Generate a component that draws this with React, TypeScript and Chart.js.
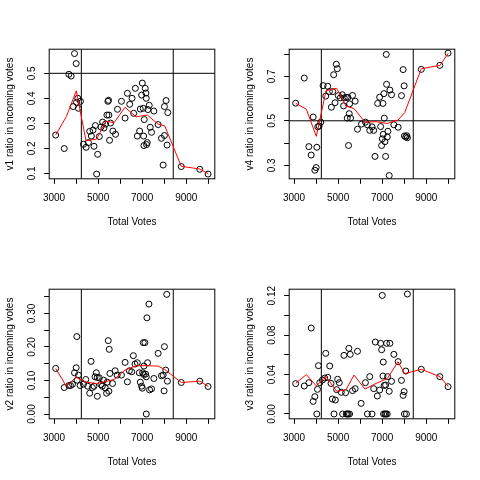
import React, { useEffect, useRef } from 'react';
import { Chart, registerables } from 'chart.js';

Chart.register(...registerables);

const FAMILY = '"Liberation Sans", Arial, Helvetica, sans-serif';
const FONT_SIZE = 10;

// shared x axis
const X_LIM = [2782, 10295];
const X_TICKS = [3000, 4000, 5000, 6000, 7000, 8000, 9000, 10000];
const X_TICK_LABELS = ['3000', '', '5000', '', '7000', '', '9000', ''];
const CUTS = [4240, 8410];
const SMOOTH_X = [3075, 3560, 4012, 4452, 4935, 5359, 5722, 6221, 6720, 7233, 7718, 8022, 8775, 9623, 10000];

// v1
const V1_X = [3075, 3465, 3675, 3780, 3930, 4005, 3870, 4020, 4080, 4110, 4200, 4335, 4455, 4560, 4620, 4695, 4770, 4815, 4875, 4935, 4980, 5055, 5130, 5205, 5265, 5340, 5400, 5445, 5475, 5490, 5520, 5565, 5670, 5790, 5880, 6060, 6225, 6330, 6435, 6540, 6615, 6690, 6780, 6885, 6915, 6975, 7005, 7050, 7065, 7080, 7095, 7140, 7170, 7185, 7200, 7230, 7260, 7320, 7365, 7425, 7530, 7725, 7875, 7950, 8010, 8010, 8085, 8130, 8160, 8775, 9615, 9990];
const V1_Y = [0.253, 0.199, 0.496, 0.489, 0.579, 0.539, 0.367, 0.384, 0.400, 0.360, 0.388, 0.216, 0.204, 0.223, 0.268, 0.249, 0.273, 0.208, 0.291, 0.097, 0.176, 0.247, 0.285, 0.305, 0.281, 0.297, 0.333, 0.388, 0.392, 0.333, 0.232, 0.301, 0.269, 0.256, 0.356, 0.388, 0.321, 0.420, 0.376, 0.400, 0.340, 0.440, 0.249, 0.269, 0.357, 0.413, 0.461, 0.360, 0.249, 0.211, 0.315, 0.440, 0.421, 0.400, 0.215, 0.223, 0.355, 0.372, 0.284, 0.264, 0.349, 0.295, 0.240, 0.133, 0.251, 0.367, 0.391, 0.213, 0.343, 0.127, 0.116, 0.097];
const V1_SMOOTH = [0.253, 0.327, 0.430, 0.230, 0.237, 0.309, 0.302, 0.364, 0.326, 0.333, 0.297, 0.290, 0.128, 0.117, 0.098];
const V1_YLIM = [0.078, 0.5964];
const V1_TICKS = [0.1, 0.2, 0.3, 0.4, 0.5];
const V1_TICK_LABELS = ['0.1', '0.2', '0.3', '0.4', '0.5'];
const V1_HLINES = [0.5];

// v4
const V4_X = [3075, 3465, 3675, 3780, 3870, 3945, 4005, 4035, 4080, 4140, 4215, 4320, 4440, 4530, 4605, 4695, 4755, 4800, 4860, 4920, 4965, 5010, 5100, 5190, 5250, 5280, 5370, 5415, 5445, 5475, 5505, 5520, 5565, 5655, 5775, 5880, 6060, 6240, 6330, 6435, 6540, 6615, 6675, 6795, 6885, 6930, 6975, 7005, 7035, 7050, 7080, 7095, 7125, 7155, 7185, 7200, 7230, 7260, 7320, 7350, 7425, 7530, 7725, 7875, 7950, 7995, 8010, 8070, 8115, 8145, 8775, 9615, 9990];
const V4_Y = [0.579, 0.692, 0.384, 0.346, 0.517, 0.278, 0.290, 0.381, 0.473, 0.476, 0.494, 0.658, 0.611, 0.655, 0.631, 0.561, 0.631, 0.707, 0.581, 0.754, 0.734, 0.613, 0.603, 0.617, 0.567, 0.603, 0.605, 0.512, 0.605, 0.389, 0.532, 0.576, 0.512, 0.614, 0.588, 0.462, 0.485, 0.494, 0.482, 0.457, 0.473, 0.457, 0.340, 0.578, 0.606, 0.474, 0.389, 0.419, 0.578, 0.439, 0.622, 0.512, 0.406, 0.340, 0.798, 0.664, 0.427, 0.453, 0.254, 0.638, 0.617, 0.482, 0.471, 0.613, 0.730, 0.657, 0.432, 0.427, 0.433, 0.424, 0.731, 0.749, 0.804];
const V4_SMOOTH = [0.579, 0.552, 0.430, 0.635, 0.646, 0.566, 0.555, 0.494, 0.496, 0.488, 0.503, 0.537, 0.734, 0.749, 0.804];
const V4_YLIM = [0.2394, 0.8216];
const V4_TICKS = [0.3, 0.4, 0.5, 0.6, 0.7, 0.8];
const V4_TICK_LABELS = ['0.3', '', '0.5', '', '0.7', ''];
const V4_HLINES = [0.5];

// v2
const V2_X = [3075, 3465, 3675, 3750, 3840, 3930, 4005, 4035, 4050, 4110, 4185, 4335, 4440, 4530, 4620, 4680, 4740, 4815, 4860, 4920, 4965, 4965, 5055, 5130, 5190, 5250, 5325, 5385, 5415, 5460, 5490, 5505, 5535, 5655, 5775, 5865, 6060, 6225, 6330, 6420, 6525, 6600, 6675, 6780, 6870, 6915, 6975, 7005, 7020, 7050, 7065, 7080, 7125, 7155, 7185, 7185, 7215, 7245, 7305, 7335, 7425, 7530, 7725, 7875, 7950, 7995, 8010, 8070, 8115, 8145, 8775, 9615, 9990];
const V2_Y = [0.136, 0.079, 0.085, 0.085, 0.089, 0.123, 0.138, 0.231, 0.101, 0.116, 0.085, 0.089, 0.103, 0.083, 0.062, 0.157, 0.079, 0.083, 0.111, 0.123, 0.053, 0.109, 0.108, 0.088, 0.083, 0.101, 0.078, 0.062, 0.095, 0.219, 0.068, 0.193, 0.121, 0.091, 0.129, 0.116, 0.116, 0.154, 0.096, 0.129, 0.126, 0.174, 0.149, 0.153, 0.123, 0.095, 0.083, 0.077, 0.123, 0.213, 0.118, 0.143, 0.213, 0.119, 0.111, 0.000, 0.287, 0.153, 0.328, 0.072, 0.075, 0.106, 0.181, 0.114, 0.116, 0.069, 0.201, 0.131, 0.357, 0.098, 0.094, 0.098, 0.082];
const V2_SMOOTH = [0.136, 0.083, 0.110, 0.095, 0.091, 0.097, 0.103, 0.131, 0.144, 0.144, 0.143, 0.133, 0.094, 0.098, 0.082];
const V2_YLIM = [-0.0143, 0.3724];
const V2_TICKS = [0, 0.05, 0.1, 0.15, 0.2, 0.25, 0.3, 0.35];
const V2_TICK_LABELS = ['0.00', '', '0.10', '', '0.20', '', '0.30', ''];
const V2_HLINES: number[] = [];

// v3
const V3_X = [3075, 3465, 3675, 3780, 3870, 3945, 4035, 4065, 4110, 4170, 4290, 4395, 4440, 4530, 4620, 4680, 4740, 4815, 4875, 4935, 4980, 5055, 5145, 5205, 5265, 5340, 5370, 5415, 5460, 5490, 5520, 5550, 5655, 5775, 5880, 6045, 6240, 6330, 6435, 6540, 6615, 6690, 6780, 6885, 6930, 6975, 7005, 7035, 7050, 7065, 7095, 7125, 7155, 7170, 7200, 7230, 7245, 7320, 7350, 7425, 7530, 7725, 7875, 7950, 7995, 8010, 8070, 8100, 8145, 8775, 9615, 9990];
const V3_Y = [0.0308, 0.0284, 0.0318, 0.0872, 0.0128, 0.0176, 0, 0.025, 0.049, 0.0318, 0.0345, 0.0365, 0.0615, 0.0372, 0.0487, 0.031, 0.0152, 0, 0.0142, 0.0247, 0.0352, 0.0318, 0.022, 0, 0.0595, 0.0216, 0, 0, 0, 0.0666, 0, 0.0605, 0.0237, 0.0257, 0.0636, 0.0108, 0.0318, 0, 0.0379, 0, 0.0257, 0.073, 0.0183, 0.0243, 0.0717, 0.0652, 0.1203, 0.0385, 0.0527, 0, 0.029, 0, 0.0294, 0, 0.0717, 0, 0.0379, 0.023, 0.0717, 0.0331, 0.0605, 0.0531, 0.0341, 0.0189, 0.0227, 0, 0.0436, 0, 0.1217, 0.0453, 0.0379, 0.0277];
const V3_SMOOTH = [0.031, 0.040, 0.0285, 0.038, 0.023, 0.0245, 0.0395, 0.0253, 0.031, 0.036, 0.053, 0.041, 0.0453, 0.0379, 0.0277];
const V3_YLIM = [-0.00487, 0.1266];
const V3_TICKS = [0, 0.02, 0.04, 0.06, 0.08, 0.1, 0.12];
const V3_TICK_LABELS = ['0.00', '', '0.04', '', '0.08', '', '0.12'];
const V3_HLINES: number[] = [];

type Panel = {
  name: string;
  xs: number[];
  ys: number[];
  smooth: number[];
  ylim: number[];
  ticks: number[];
  tickLabels: string[];
  hlines: number[];
  left: number;
  top: number;
};

const PANELS: Panel[] = [
  { name: 'v1', xs: V1_X, ys: V1_Y, smooth: V1_SMOOTH, ylim: V1_YLIM, ticks: V1_TICKS, tickLabels: V1_TICK_LABELS, hlines: V1_HLINES, left: 0, top: 0 },
  { name: 'v4', xs: V4_X, ys: V4_Y, smooth: V4_SMOOTH, ylim: V4_YLIM, ticks: V4_TICKS, tickLabels: V4_TICK_LABELS, hlines: V4_HLINES, left: 240, top: 0 },
  { name: 'v2', xs: V2_X, ys: V2_Y, smooth: V2_SMOOTH, ylim: V2_YLIM, ticks: V2_TICKS, tickLabels: V2_TICK_LABELS, hlines: V2_HLINES, left: 0, top: 240 },
  { name: 'v3', xs: V3_X, ys: V3_Y, smooth: V3_SMOOTH, ylim: V3_YLIM, ticks: V3_TICKS, tickLabels: V3_TICK_LABELS, hlines: V3_HLINES, left: 240, top: 240 },
];

const SIZE = 240;
const MAR_LEFT = 49.2;
const MAR_RIGHT = 25.2;
const MAR_TOP = 49.2;
const MAR_BOTTOM = 61.2;
const TICK_LEN = 5;
const Y_LABEL_OFFSET = 16.5;

function measureWidest(labels: string[]): number {
  const c = document.createElement('canvas');
  const ctx = c.getContext('2d');
  if (!ctx) return 0;
  ctx.font = `${FONT_SIZE}px ${FAMILY}`;
  let w = 0;
  labels.forEach((l) => {
    w = Math.max(w, ctx.measureText(l).width);
  });
  return w;
}

const boxPlugin = {
  id: 'rbox',
  afterDatasetsDraw(chart: any) {
    const { ctx, chartArea } = chart;
    ctx.save();
    ctx.strokeStyle = '#000';
    ctx.lineWidth = 1;
    ctx.strokeRect(chartArea.left, chartArea.top, chartArea.right - chartArea.left, chartArea.bottom - chartArea.top);
    ctx.restore();
  },
};

function makeConfig(p: Panel): any {
  const widest = measureWidest(p.tickLabels);
  const yPad = Y_LABEL_OFFSET - TICK_LEN - widest / 2;
  const datasets: any[] = [];
  datasets.push({
    data: SMOOTH_X.map((x, i) => ({ x, y: p.smooth[i] })),
    showLine: true,
    borderColor: '#ff0000',
    borderWidth: 1,
    pointRadius: 0,
    fill: false,
    tension: 0,
  });
  CUTS.forEach((c) => {
    datasets.push({
      data: [{ x: c, y: p.ylim[0] }, { x: c, y: p.ylim[1] }],
      showLine: true,
      borderColor: '#000',
      borderWidth: 1,
      pointRadius: 0,
      fill: false,
    });
  });
  p.hlines.forEach((h) => {
    datasets.push({
      data: [{ x: X_LIM[0], y: h }, { x: X_LIM[1], y: h }],
      showLine: true,
      borderColor: '#000',
      borderWidth: 1,
      pointRadius: 0,
      fill: false,
    });
  });
  datasets.push({
    data: p.xs.map((x, i) => ({ x, y: p.ys[i] })),
    showLine: false,
    pointRadius: 3,
    pointBorderWidth: 1,
    borderColor: '#000',
    backgroundColor: 'rgba(0,0,0,0)',
    pointHoverRadius: 3,
  });

  return {
    type: 'scatter',
    data: { datasets },
    plugins: [boxPlugin],
    options: {
      responsive: false,
      animation: false,
      devicePixelRatio: 1,
      events: [],
      layout: { padding: { left: 0, top: MAR_TOP, right: MAR_RIGHT, bottom: 0 } },
      plugins: { legend: { display: false }, tooltip: { enabled: false } },
      scales: {
        x: {
          type: 'linear',
          min: X_LIM[0],
          max: X_LIM[1],
          afterBuildTicks: (s: any) => {
            s.ticks = X_TICKS.map((v) => ({ value: v }));
          },
          afterFit: (s: any) => {
            s.height = MAR_BOTTOM;
          },
          ticks: {
            autoSkip: false,
            minRotation: 0,
            maxRotation: 0,
            padding: 8.5,
            color: '#000',
            font: { family: FAMILY, size: FONT_SIZE },
            callback: (_v: any, i: number) => X_TICK_LABELS[i],
          },
          grid: {
            drawOnChartArea: false,
            drawTicks: true,
            tickLength: TICK_LEN,
            tickColor: '#000',
            color: '#000',
            tickWidth: 1,
          },
          border: { display: false },
          title: {
            display: true,
            text: 'Total Votes',
            color: '#000',
            font: { family: FAMILY, size: FONT_SIZE },
            padding: { top: 0, bottom: 11.3 },
          },
        },
        y: {
          type: 'linear',
          min: p.ylim[0],
          max: p.ylim[1],
          afterBuildTicks: (s: any) => {
            s.ticks = p.ticks.map((v) => ({ value: v }));
          },
          afterFit: (s: any) => {
            s.width = MAR_LEFT;
          },
          ticks: {
            autoSkip: false,
            minRotation: 90,
            maxRotation: 90,
            crossAlign: 'center',
            padding: yPad,
            color: '#000',
            font: { family: FAMILY, size: FONT_SIZE },
            callback: (_v: any, i: number) => p.tickLabels[i],
          },
          grid: {
            drawOnChartArea: false,
            drawTicks: true,
            tickLength: TICK_LEN,
            tickColor: '#000',
            color: '#000',
            tickWidth: 1,
          },
          border: { display: false },
          title: {
            display: true,
            text: `${p.name} ratio in incoming votes`,
            color: '#000',
            font: { family: FAMILY, size: FONT_SIZE },
            padding: { top: 4.7, bottom: 0 },
          },
        },
      },
    },
  };
}

function PanelChart({ panel }: { panel: Panel }) {
  const ref = useRef<HTMLCanvasElement | null>(null);
  useEffect(() => {
    if (!ref.current) return;
    const chart = new Chart(ref.current, makeConfig(panel));
    return () => chart.destroy();
  }, [panel]);
  return (
    <canvas
      ref={ref}
      width={SIZE}
      height={SIZE}
      style={{ position: 'absolute', left: panel.left, top: panel.top, width: SIZE, height: SIZE }}
    />
  );
}

export default function App() {
  return (
    <div style={{ position: 'absolute', left: 0, top: 0, width: 480, height: 480, background: '#fff' }}>
      {PANELS.map((p) => (
        <PanelChart key={p.name} panel={p} />
      ))}
    </div>
  );
}
